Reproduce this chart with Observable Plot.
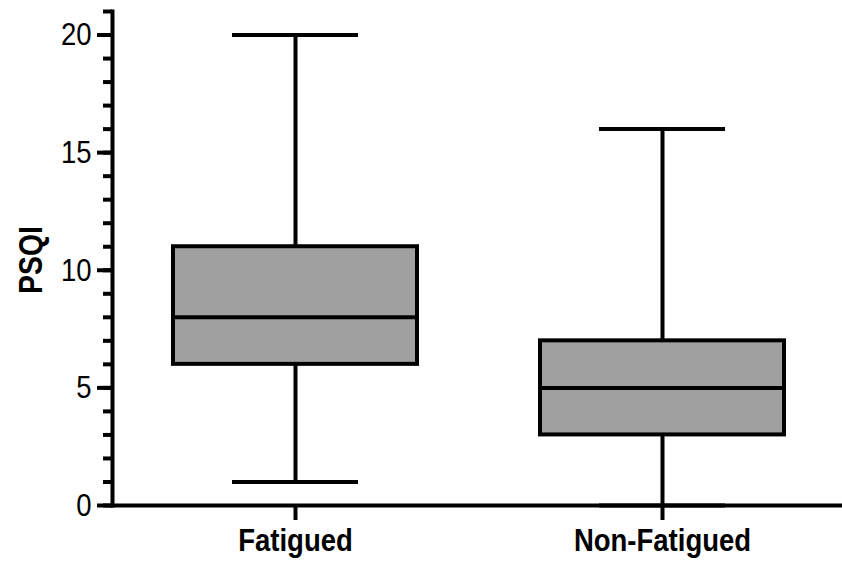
<!DOCTYPE html>
<html>
<head>
<meta charset="utf-8">
<script src="https://cdn.jsdelivr.net/npm/d3@7"></script>
<script src="https://cdn.jsdelivr.net/npm/@observablehq/plot@0.6"></script>
<style>
  html, body { margin: 0; padding: 0; background: #fff; }
  #chart svg { display: block; }
</style>
</head>
<body>
<div id="chart"></div>
<script>
const groups = ["Fatigued", "Non-Fatigued"];
const mins = [1, 0];
const q1s = [6, 3];
const medians = [8, 5];
const q3s = [11, 7];
const maxs = [20, 16];
const yMajorTicks = [0, 5, 10, 15, 20];
const yMinorTicks = [0, 1, 2, 3, 4, 5, 6, 7, 8, 9, 10, 11, 12, 13, 14, 15, 16, 17, 18, 19, 20, 21];
const yLabel = "PSQI";

const data = groups.map((g, i) => ({
  group: g, min: mins[i], q1: q1s[i], median: medians[i], q3: q3s[i], max: maxs[i]
}));

const font = "'Liberation Sans', Arial, sans-serif";

const chart = Plot.plot({
  width: 842,
  height: 564,
  marginLeft: 112,
  marginRight: 0,
  marginTop: 11,
  marginBottom: 59,
  style: { fontFamily: font, background: "#fff", color: "#000" },
  x: {
    domain: groups,
    paddingInner: 0.336,
    paddingOuter: 0.1612,
    align: 0.515,
    axis: null
  },
  y: { domain: [0, 21], axis: null },
  marks: [
    Plot.ruleX(data, { x: "group", y1: "min", y2: "q1", stroke: "#000", strokeWidth: 4 }),
    Plot.ruleX(data, { x: "group", y1: "q3", y2: "max", stroke: "#000", strokeWidth: 4 }),
    Plot.tickY(data, { x: "group", y: "min", stroke: "#000", strokeWidth: 4, inset: 59 }),
    Plot.tickY(data, { x: "group", y: "max", stroke: "#000", strokeWidth: 4, inset: 59 }),
    Plot.barY(data, { x: "group", y1: "q1", y2: "q3", fill: "#a0a0a0", stroke: "#000", strokeWidth: 4 }),
    Plot.tickY(data, { x: "group", y: "median", stroke: "#000", strokeWidth: 4 }),
    Plot.axisY({ ticks: yMinorTicks, tickSize: 9, strokeWidth: 4, text: null, label: null }),
    Plot.axisY({ ticks: yMajorTicks, tickSize: 15, strokeWidth: 4, tickPadding: 6, fontSize: 32, label: null, stroke: "#000", fill: "#000" }),
    Plot.axisX({ tickSize: 15, strokeWidth: 4, tickPadding: 8, fontSize: 32, fontWeight: "bold", label: null, stroke: "#000", fill: "#000" }),
    Plot.frame({ anchor: "left", stroke: "#000", strokeWidth: 4 }),
    Plot.frame({ anchor: "bottom", stroke: "#000", strokeWidth: 4 })
  ]
});

// y-axis title
const svg = d3.select(chart);
svg.append("text")
  .attr("transform", "translate(42,260) rotate(-90)")
  .attr("text-anchor", "middle")
  .style("font-family", font)
  .style("font-size", "33px")
  .style("font-weight", "bold")
  .attr("fill", "#000")
  .text(yLabel);

// condense all text horizontally to mimic a narrow typeface
const sx = 0.86;
svg.selectAll("text").each(function () {
  const t = d3.select(this);
  const tr = t.attr("transform");
  if (tr) {
    t.attr("transform", tr + ` scale(${sx},1)`);
  } else {
    const x = +(t.attr("x") || 0), y = +(t.attr("y") || 0);
    t.attr("transform", `translate(${x},${y}) scale(${sx},1) translate(${-x},${-y})`);
  }
});

document.getElementById("chart").appendChild(chart);
</script>
</body>
</html>
